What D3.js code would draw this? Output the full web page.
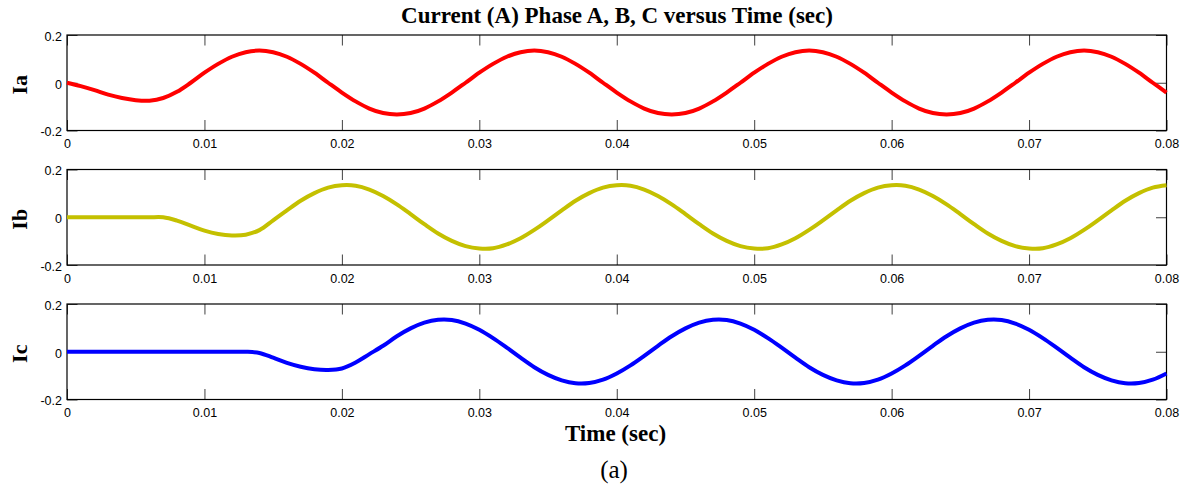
<!DOCTYPE html>
<html>
<head>
<meta charset="utf-8">
<script src="https://cdn.jsdelivr.net/npm/d3@7"></script>
<style>
  html, body { margin: 0; padding: 0; background: #fff; }
  svg { display: block; }
</style>
</head>
<body>
<div id="chart"></div>
<script>
// ---- Data (time in ms, currents in A) ----
const timeMs = [0,1,2,3,4,5,6,7,8,9,10,11,12,13,14,15,16,17,18,19,20,21,22,23,24,25,26,27,28,29,30,31,32,33,34,35,36,37,38,39,40,41,42,43,44,45,46,47,48,49,50,51,52,53,54,55,56,57,58,59,60,61,62,63,64,65,66,67,68,69,70,71,72,73,74,75,76,77,78,79,80];

const currentA = [0, -0.014, -0.031, -0.050, -0.064, -0.073, -0.075, -0.064, -0.038,
  0.000, 0.042, 0.079, 0.109, 0.128, 0.135, 0.128, 0.109, 0.079, 0.042,
  0.000, -0.041, -0.078, -0.108, -0.127, -0.133, -0.127, -0.108, -0.078, -0.041,
  0.000, 0.042, 0.079, 0.109, 0.128, 0.135, 0.128, 0.109, 0.079, 0.042,
  0.000, -0.041, -0.078, -0.108, -0.127, -0.133, -0.127, -0.108, -0.078, -0.041,
  0.000, 0.042, 0.079, 0.109, 0.128, 0.135, 0.128, 0.109, 0.079, 0.042,
  0.000, -0.041, -0.078, -0.108, -0.127, -0.133, -0.127, -0.108, -0.078, -0.041,
  0.000, 0.042, 0.079, 0.109, 0.128, 0.135, 0.128, 0.109, 0.079, 0.042,
  0.000, -0.041];

const currentB = [0, 0, 0, 0, 0, 0, 0, 0, -0.014, -0.035, -0.056, -0.070, -0.076, -0.073, -0.054, -0.013,
  0.029, 0.069, 0.101, 0.124, 0.134, 0.132, 0.116, 0.089, 0.054, 0.013,
  -0.029, -0.068, -0.099, -0.121, -0.131, -0.130, -0.114, -0.088, -0.053, -0.013,
  0.029, 0.069, 0.101, 0.124, 0.134, 0.132, 0.116, 0.089, 0.054, 0.013,
  -0.029, -0.068, -0.099, -0.121, -0.131, -0.130, -0.114, -0.088, -0.053, -0.013,
  0.029, 0.069, 0.101, 0.124, 0.134, 0.132, 0.116, 0.089, 0.054, 0.013,
  -0.029, -0.068, -0.099, -0.121, -0.131, -0.130, -0.114, -0.088, -0.053, -0.013,
  0.029, 0.069, 0.101, 0.124, 0.134];

const currentC = [0, 0, 0, 0, 0, 0, 0, 0, 0, 0, 0, 0, 0, 0,
  -0.005, -0.025, -0.047, -0.063, -0.073, -0.076, -0.070, -0.045, -0.010,
  0.025, 0.065, 0.098, 0.122, 0.134, 0.133, 0.118, 0.092, 0.057, 0.017,
  -0.025, -0.065, -0.097, -0.120, -0.132, -0.131, -0.117, -0.091, -0.057, -0.017,
  0.025, 0.065, 0.098, 0.122, 0.134, 0.133, 0.118, 0.092, 0.057, 0.017,
  -0.025, -0.065, -0.097, -0.120, -0.132, -0.131, -0.117, -0.091, -0.057, -0.017,
  0.025, 0.065, 0.098, 0.122, 0.134, 0.133, 0.118, 0.092, 0.057, 0.017,
  -0.025, -0.065, -0.097, -0.120, -0.132, -0.131, -0.117, -0.091];

const seriesNames = ["Ia", "Ib", "Ic"];
const xTicks = [0, 0.01, 0.02, 0.03, 0.04, 0.05, 0.06, 0.07, 0.08];
const xTickLabels = ["0", "0.01", "0.02", "0.03", "0.04", "0.05", "0.06", "0.07", "0.08"];
const yTicks = [-0.2, 0, 0.2];
const yTickLabels = ["-0.2", "0", "0.2"];
const titleText = "Current (A) Phase A, B, C versus Time (sec)";
const xLabelText = "Time (sec)";
const captionText = "(a)";

// ---- Layout ----
const W = 1189, H = 488;
const left = 67, right = 1166.5;
const panelTops = [35, 169.5, 304];
const panelH = 95.5;
const colors = ["#ff0000", "#c4c000", "#0000ff"];
const seriesData = [currentA, currentB, currentC];

const svg = d3.select("#chart").append("svg").attr("width", W).attr("height", H);

const x = d3.scaleLinear().domain([0, 0.08]).range([left, right]);

seriesData.forEach((vals, i) => {
  const top = panelTops[i];
  const y = d3.scaleLinear().domain([-0.2, 0.2]).range([top + panelH, top]);
  const g = svg.append("g");

  const tickLen = 10.5;
  // bottom axis with labels
  const ax = g.append("g").attr("transform", `translate(0,${top + panelH})`)
    .call(d3.axisBottom(x).tickValues(xTicks).tickSize(-tickLen).tickPadding(9)
      .tickFormat((d, k) => xTickLabels[k]));
  // top axis
  const axT = g.append("g").attr("transform", `translate(0,${top})`)
    .call(d3.axisTop(x).tickValues(xTicks).tickSize(-tickLen).tickFormat(""));
  // left axis with labels
  const ay = g.append("g").attr("transform", `translate(${left},0)`)
    .call(d3.axisLeft(y).tickValues(yTicks).tickSize(-tickLen).tickPadding(5)
      .tickFormat((d, k) => yTickLabels[k]));
  // right axis
  const ayR = g.append("g").attr("transform", `translate(${right},0)`)
    .call(d3.axisRight(y).tickValues(yTicks).tickSize(-tickLen).tickFormat(""));

  [ax, axT, ay, ayR].forEach(a => {
    a.select(".domain").remove();
    a.selectAll(".tick line").attr("stroke", "#404040").attr("stroke-width", 1);
    a.selectAll(".tick text").attr("fill", "#000")
      .style("font-family", "'Liberation Sans', Arial, sans-serif")
      .style("font-size", "12.5px");
  });
  ay.selectAll(".tick text").attr("dy", "0.42em");

  // box
  g.append("rect")
    .attr("x", left).attr("y", top)
    .attr("width", right - left).attr("height", panelH)
    .attr("fill", "none").attr("stroke", "#000").attr("stroke-width", 1.2);

  // line
  const line = d3.line()
    .x((d, k) => x(timeMs[k] / 1000))
    .y(d => y(d))
    .curve(d3.curveCatmullRom.alpha(0.5));
  g.append("path")
    .datum(vals)
    .attr("d", line)
    .attr("fill", "none")
    .attr("stroke", colors[i])
    .attr("stroke-width", 4)
    .attr("stroke-linejoin", "round")
    .attr("stroke-linecap", "butt");

  // y label
  g.append("text")
    .attr("transform", `translate(27,${top + panelH / 2 + 2}) rotate(-90)`)
    .attr("text-anchor", "middle")
    .style("font-family", "'Liberation Serif', 'Times New Roman', serif")
    .style("font-weight", "bold")
    .style("font-size", "22px")
    .text(seriesNames[i]);
});

// title
svg.append("text")
  .attr("x", 617).attr("y", 23)
  .attr("text-anchor", "middle")
  .style("font-family", "'Liberation Serif', 'Times New Roman', serif")
  .style("font-weight", "bold")
  .style("font-size", "23px")
  .text(titleText);

// x label
svg.append("text")
  .attr("x", 615.5).attr("y", 441)
  .attr("text-anchor", "middle")
  .style("font-family", "'Liberation Serif', 'Times New Roman', serif")
  .style("font-weight", "bold")
  .style("font-size", "23px")
  .text(xLabelText);

// caption
svg.append("text")
  .attr("x", 614).attr("y", 478)
  .attr("text-anchor", "middle")
  .style("font-family", "'Liberation Serif', 'Times New Roman', serif")
  .style("font-size", "25px")
  .text(captionText);
</script>
</body>
</html>
